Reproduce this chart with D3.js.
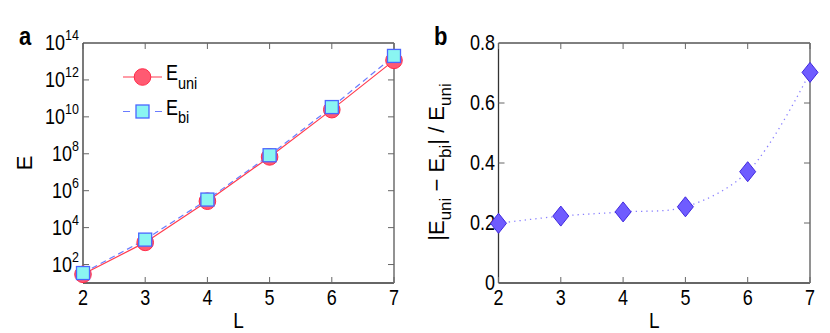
<!DOCTYPE html>
<meta charset="utf-8" />
<style>
  body { margin: 0; background: #fff; }
  text { font-family: "Liberation Sans", Arial, sans-serif; fill: #000; }
</style>
<svg width="830" height="333"></svg>
<script src="https://d3js.org/d3.v7.min.js"></script>
<script>
  // data
  var L = [2, 3, 4, 5, 6, 7];
  var logEuni = [1.47, 3.2, 5.43, 7.83, 10.39, 13.06];
  var logEbi = [1.54, 3.35, 5.52, 7.92, 10.53, 13.3];
  var relDiff = [0.199, 0.223, 0.237, 0.254, 0.371, 0.702];
  var yExpTicks = [2, 4, 6, 8, 10, 12, 14];
  var yLinTicks = [0, 0.2, 0.4, 0.6, 0.8];

  var svg = d3.select("svg");
  var top_ = 43, bottom = 283;
  var SY = 1.2; // the original figure is a bit stretched vertically

  // text placed at (x, y) baseline, stretched like the source
  function txt(g, x, y, size, anchor) {
    return g.append("text")
      .attr("transform", "translate(" + x + "," + y + ") scale(1," + SY + ")")
      .attr("text-anchor", anchor || "start")
      .style("font-size", size + "px");
  }

  function frame(g, x, xl, xr) {
    var tickLen = 6;
    g.append("line").attr("x1", xl).attr("x2", xr).attr("y1", top_).attr("y2", top_)
      .attr("stroke", "#000").attr("stroke-width", 1);
    g.append("line").attr("x1", xl).attr("x2", xr).attr("y1", bottom).attr("y2", bottom)
      .attr("stroke", "#333").attr("stroke-width", 1.3);
    g.append("line").attr("x1", xl).attr("x2", xl).attr("y1", top_).attr("y2", bottom)
      .attr("stroke", "#333").attr("stroke-width", 1.3);
    g.append("line").attr("x1", xr).attr("x2", xr).attr("y1", top_).attr("y2", bottom)
      .attr("stroke", "#777").attr("stroke-width", 1.6);
    L.forEach(function (d) {
      g.append("line").attr("x1", x(d)).attr("x2", x(d)).attr("y1", top_).attr("y2", top_ + tickLen)
        .attr("stroke", "#666");
      g.append("line").attr("x1", x(d)).attr("x2", x(d)).attr("y1", bottom).attr("y2", bottom - tickLen)
        .attr("stroke", "#666");
    });
    L.forEach(function (d) {
      txt(g, x(d), 305, 18, "middle").text(d);
    });
    txt(g, (x(2) + x(7)) / 2, 328, 19, "middle").text("L");
  }

  // ---------- panel a ----------
  var ga = svg.append("g");
  var xa = d3.scaleLinear().domain([2, 7]).range([83, 394]);
  var ya = d3.scaleLinear().domain([1, 14]).range([bottom, top_]);

  frame(ga, xa, 83, 394);
  yExpTicks.forEach(function (e) {
    if (e < 14) {
      ga.append("line").attr("x1", 83).attr("x2", 89).attr("y1", ya(e)).attr("y2", ya(e)).attr("stroke", "#666");
      ga.append("line").attr("x1", 394).attr("x2", 388).attr("y1", ya(e)).attr("y2", ya(e)).attr("stroke", "#666");
    }
    var t = txt(ga, 79, ya(e) + 7, 18, "end");
    t.append("tspan").text("10");
    t.append("tspan").attr("dy", -8).style("font-size", "12.5px").text(e);
  });
  ga.append("text").attr("transform", "translate(32,163) rotate(-90)")
    .attr("text-anchor", "middle").style("font-size", "22px").text("E");
  txt(ga, 19, 45, 22).style("font-weight", "bold").text("a");

  var line = d3.line().x(function (d, i) { return xa(L[i]); }).y(function (d) { return ya(d); });
  ga.append("path").datum(logEbi).attr("d", line).attr("fill", "none")
    .attr("stroke", "#6a7cff").attr("stroke-width", 1.2).attr("stroke-dasharray", "6,4");
  ga.append("path").datum(logEuni).attr("d", line).attr("fill", "none")
    .attr("stroke", "#ff3b4e").attr("stroke-width", 1.2);
  ga.selectAll(".c").data(logEuni).enter().append("circle")
    .attr("cx", function (d, i) { return xa(L[i]); })
    .attr("cy", function (d) { return ya(d); })
    .attr("r", 8.3).attr("fill", "#ff5a72").attr("stroke", "#ff2a48").attr("stroke-width", 1);
  ga.selectAll(".s").data(logEbi).enter().append("rect")
    .attr("x", function (d, i) { return xa(L[i]) - 6.5; })
    .attr("y", function (d) { return ya(d) - 6.5; })
    .attr("width", 13).attr("height", 13)
    .attr("fill", "#8af5f2").attr("stroke", "#4a66ff").attr("stroke-width", 1.3);

  // legend
  ga.append("line").attr("x1", 123).attr("x2", 162).attr("y1", 77).attr("y2", 77)
    .attr("stroke", "#ff3b4e").attr("stroke-width", 1.2);
  ga.append("circle").attr("cx", 142.5).attr("cy", 77).attr("r", 8.3)
    .attr("fill", "#ff5a72").attr("stroke", "#ff2a48");
  ga.append("line").attr("x1", 123).attr("x2", 162).attr("y1", 111.5).attr("y2", 111.5)
    .attr("stroke", "#6a7cff").attr("stroke-width", 1.2).attr("stroke-dasharray", "7,25");
  ga.append("rect").attr("x", 136).attr("y", 105).attr("width", 13).attr("height", 13)
    .attr("fill", "#8af5f2").attr("stroke", "#4a66ff").attr("stroke-width", 1.3);
  var le1 = txt(ga, 166, 80, 18);
  le1.append("tspan").text("E");
  le1.append("tspan").attr("dy", 7.5).style("font-size", "14.5px").text("uni");
  var le2 = txt(ga, 166, 115, 18);
  le2.append("tspan").text("E");
  le2.append("tspan").attr("dy", 7).style("font-size", "14.5px").text("bi");

  // ---------- panel b ----------
  var gb = svg.append("g");
  var xb = d3.scaleLinear().domain([2, 7]).range([498.5, 810]);
  var yb = d3.scaleLinear().domain([0, 0.8]).range([bottom, top_]);

  frame(gb, xb, 498.5, 810);
  yLinTicks.forEach(function (v) {
    if (v > 0 && v < 0.8) {
      gb.append("line").attr("x1", 498.5).attr("x2", 504.5).attr("y1", yb(v)).attr("y2", yb(v)).attr("stroke", "#666");
      gb.append("line").attr("x1", 810).attr("x2", 804).attr("y1", yb(v)).attr("y2", yb(v)).attr("stroke", "#666");
    }
    txt(gb, 495, yb(v) + 7, 18, "end").text(v === 0 ? "0" : d3.format(".1f")(v));
  });
  var yl = gb.append("text").attr("transform", "translate(444,162) rotate(-90)")
    .attr("text-anchor", "middle").style("font-size", "22px");
  yl.append("tspan").text("|E");
  yl.append("tspan").attr("dy", 7).style("font-size", "17px").text("uni");
  yl.append("tspan").attr("dy", -7).text(" \u2212 E");
  yl.append("tspan").attr("dy", 7).style("font-size", "17px").text("bi");
  yl.append("tspan").attr("dy", -7).text("| / E");
  yl.append("tspan").attr("dy", 7).style("font-size", "17px").text("uni");
  txt(gb, 434, 45, 22).style("font-weight", "bold").text("b");

  var lineB = d3.line().curve(d3.curveCatmullRom)
    .x(function (d, i) { return xb(L[i]); }).y(function (d) { return yb(d); });
  gb.append("path").datum(relDiff).attr("d", lineB).attr("fill", "none")
    .attr("stroke", "#8a80ff").attr("stroke-width", 1.3).attr("stroke-dasharray", "1.3,4");
  gb.selectAll(".dm").data(relDiff).enter().append("path")
    .attr("d", "M0,-10L8,0L0,10L-8,0Z")
    .attr("transform", function (d, i) { return "translate(" + xb(L[i]) + "," + yb(d) + ")"; })
    .attr("fill", "#6f5cff").attr("stroke", "#4028e0").attr("stroke-width", 1);
</script>
